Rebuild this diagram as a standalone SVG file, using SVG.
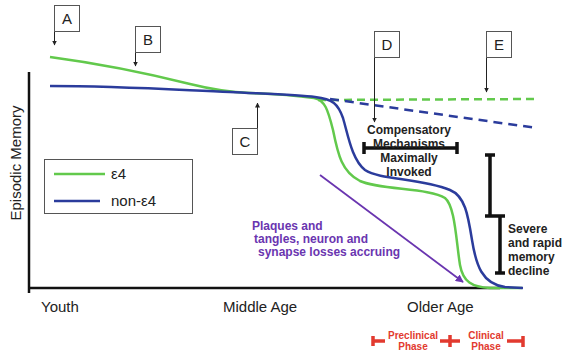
<svg xmlns="http://www.w3.org/2000/svg" width="562" height="352" viewBox="0 0 562 352">
<style>
text{font-family:"Liberation Sans",Arial,sans-serif}
.lbl{font-size:15px;fill:#222}
.box{fill:#fff;stroke:#555;stroke-width:1}
.ptr{stroke:#222;stroke-width:1;fill:none;marker-end:url(#ah)}
.bold{font-size:12px;font-weight:bold;fill:#222}
.purp{font-size:12px;font-weight:bold;fill:#6a35b0}
.red{font-size:10px;font-weight:bold;fill:#e23a2f;text-anchor:middle}
.g{stroke:#62c94c;stroke-width:2.5;fill:none}
.b{stroke:#2b3c9c;stroke-width:2.5;fill:none}
.brk{stroke:#111;stroke-width:3.5;fill:none}
.rb{stroke:#e23a2f;stroke-width:3.5;fill:none}
</style>
<defs>
<marker id="ah" viewBox="0 0 10 10" refX="9" refY="5" markerWidth="5" markerHeight="6" markerUnits="userSpaceOnUse" orient="auto"><path d="M0,0 L10,5 L0,10 z" fill="#222"/></marker>
<marker id="ap" viewBox="0 0 10 10" refX="9" refY="5" markerWidth="8" markerHeight="8" markerUnits="userSpaceOnUse" orient="auto"><path d="M0,0 L10,5 L0,10 z" fill="#6a35b0"/></marker>
</defs>
<rect width="562" height="352" fill="#fff"/>
<g id="axes">
<path d="M29,72 V293" stroke="#111" stroke-width="2.5"/>
<path d="M28,288 H500" stroke="#111" stroke-width="2.5"/>
<text transform="translate(21,163) rotate(-90)" class="lbl" text-anchor="middle">Episodic Memory</text>
<text x="41" y="312" class="lbl">Youth</text>
<text x="223" y="312" class="lbl">Middle Age</text>
<text x="407" y="312" class="lbl">Older Age</text>
</g>
<g id="connectors">
<path class="g" d="M318,100 L538,99" stroke-dasharray="8,5"/>
<path class="b" d="M330,99 L537,128" stroke-dasharray="9,6"/>
<path class="g" d="M50,57 C95,63 150,74 190,84 C210,89 225,92 250,93 C280,94 300,96 314,98 C325,100 328,110 333,130 C338,155 342,172 360,181 C380,190 430,188 445,198 C455,206 456,240 460,265 C463,282 472,287 490,288 L522,288"/>
<path class="b" d="M50,86 C120,86 180,90 230,92 C270,94 300,95 315,97 C333,99 338,104 343,118 C348,135 352,160 365,170 C380,180 420,178 450,190 C465,196 468,215 472,240 C476,265 482,284 505,287 L523,288"/>
<path d="M320,175 L463,282" stroke="#6a35b0" stroke-width="1.8" marker-end="url(#ap)"/>
<path class="ptr" d="M54.5,31 V45"/>
<path class="ptr" d="M135.5,52 V66"/>
<path class="ptr" d="M257.5,128 V103"/>
<path class="ptr" d="M374.5,57 V122"/>
<path class="ptr" d="M486.5,57 V92"/>
</g>
<g id="node-A"><rect class="box" x="54.5" y="5.5" width="25" height="26"/><text x="67" y="24" class="lbl" text-anchor="middle">A</text></g>
<g id="node-B"><rect class="box" x="135.5" y="26.5" width="25" height="26"/><text x="148" y="45" class="lbl" text-anchor="middle">B</text></g>
<g id="node-C"><rect class="box" x="232.5" y="128.5" width="25" height="26"/><text x="245" y="147" class="lbl" text-anchor="middle">C</text></g>
<g id="node-D"><rect class="box" x="374.5" y="31.5" width="25" height="26"/><text x="387" y="50" class="lbl" text-anchor="middle">D</text></g>
<g id="node-E"><rect class="box" x="486.5" y="31.5" width="25" height="26"/><text x="499" y="50" class="lbl" text-anchor="middle">E</text></g>
<g id="legend">
<rect class="box" x="44.5" y="159.5" width="148" height="54"/>
<path d="M54,174 H105" stroke="#62c94c" stroke-width="2.5"/>
<text x="111" y="179" class="lbl">ε4</text>
<path d="M54,201 H100" stroke="#2b3c9c" stroke-width="2.5"/>
<text x="111" y="206" class="lbl">non-ε4</text>
</g>
<g id="compensatory">
<path class="brk" d="M364,148 H457 M364,142 V154 M457,142 V154"/>
<text class="bold" text-anchor="middle"><tspan x="409" y="134">Compensatory</tspan><tspan x="409" y="148">Mechanisms</tspan><tspan x="409" y="162">Maximally</tspan><tspan x="409" y="176">Invoked</tspan></text>
</g>
<g id="decline">
<path class="brk" d="M490,155 V216 M485,155 H495 M485,216 H495"/>
<path class="brk" d="M500,216 V273 M495,216 H505 M495,273 H505"/>
<text class="bold"><tspan x="508" y="233">Severe</tspan><tspan x="508" y="247">and rapid</tspan><tspan x="508" y="261">memory</tspan><tspan x="508" y="275">decline</tspan></text>
</g>
<g id="plaques">
<text class="purp"><tspan x="252" y="230">Plaques and</tspan><tspan x="254" y="243">tangles, neuron and</tspan><tspan x="258" y="256">synapse losses accruing</tspan></text>
</g>
<g id="phases">
<path class="rb" d="M373,341 H385 M373,336 V346"/>
<path class="rb" d="M440,341 H460 M450,335 V347"/>
<path class="rb" d="M507,341 H523 M523,336 V347"/>
<text class="red"><tspan x="413" y="339">Preclinical</tspan><tspan x="413" y="350">Phase</tspan></text>
<text class="red"><tspan x="486" y="339">Clinical</tspan><tspan x="486" y="350">Phase</tspan></text>
</g>
</svg>
